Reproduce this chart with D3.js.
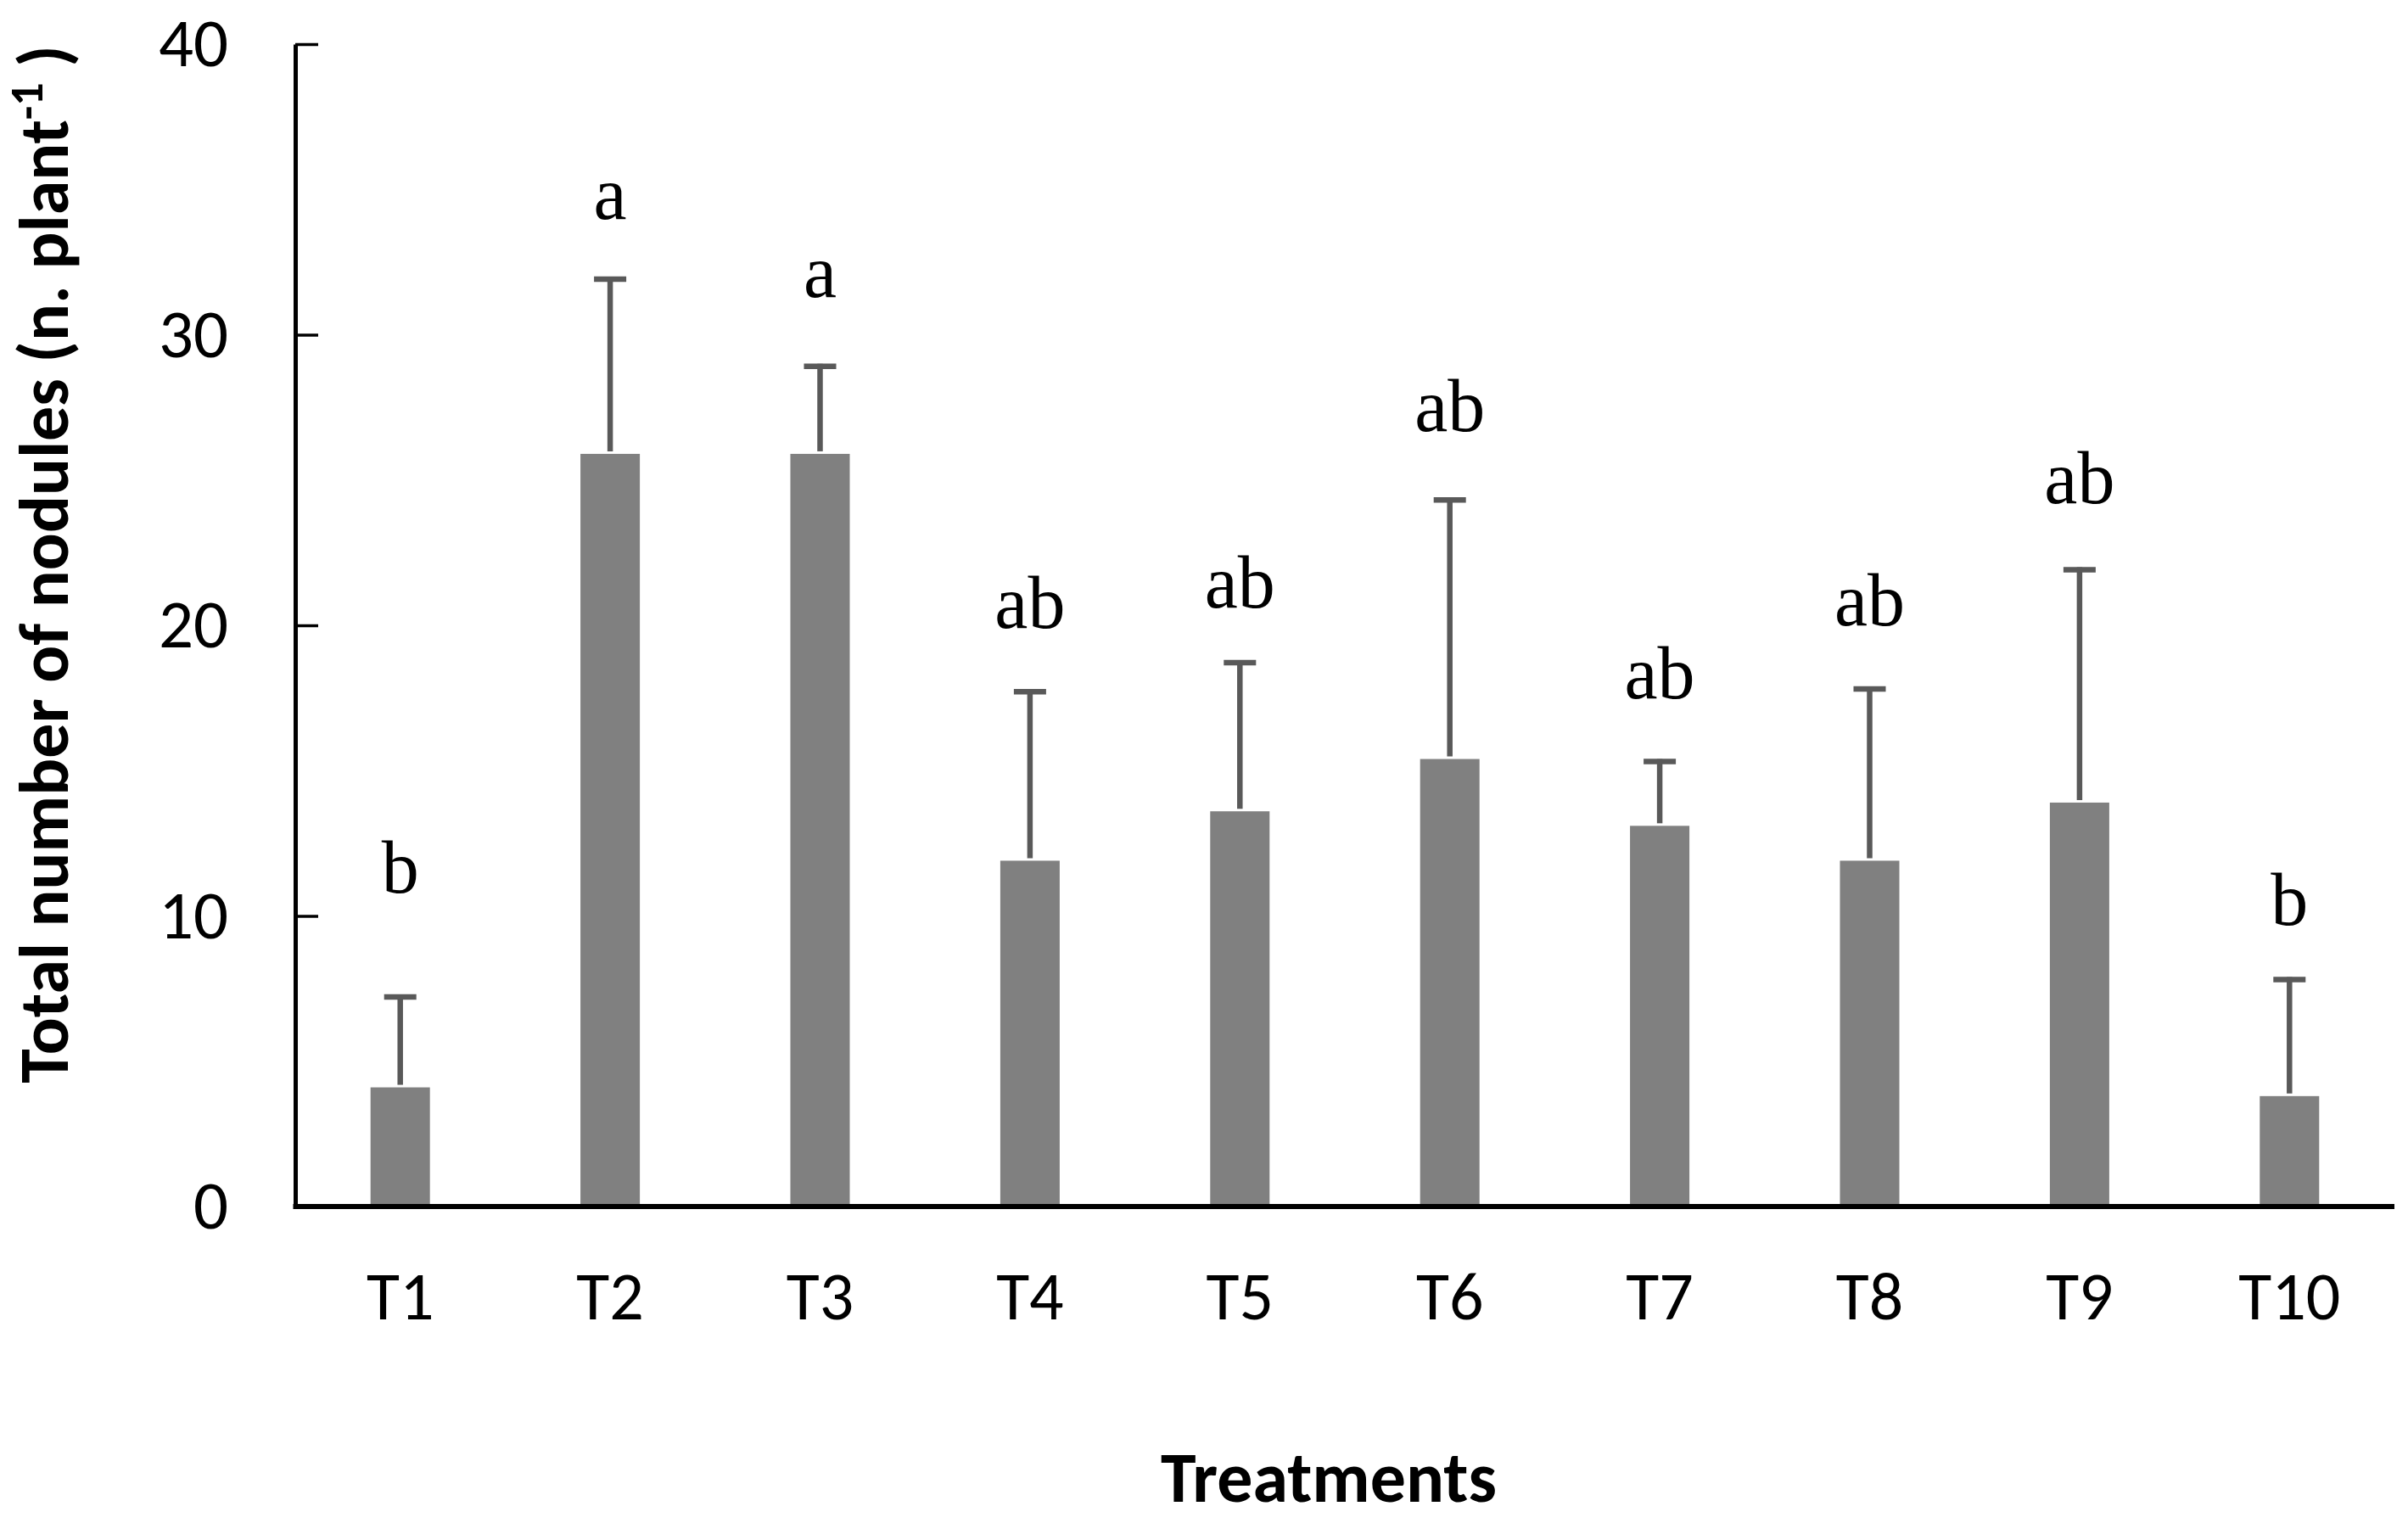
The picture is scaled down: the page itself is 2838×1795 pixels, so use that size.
<!DOCTYPE html>
<html>
<head>
<meta charset="utf-8">
<script src="https://cdn.jsdelivr.net/npm/d3@7"></script>
<style>
  body { margin: 0; background: #fff; }
</style>
</head>
<body>
<script>
// Data
const treatments = ['T1', 'T2', 'T3', 'T4', 'T5', 'T6', 'T7', 'T8', 'T9', 'T10'];
const means = [4.1, 25.9, 25.9, 11.9, 13.6, 15.4, 13.1, 11.9, 13.9, 3.8];
const errors = [3.2, 6.1, 3.1, 5.9, 5.2, 9.0, 2.3, 6.0, 8.1, 4.1];
const letters = ['b', 'a', 'a', 'ab', 'ab', 'ab', 'ab', 'ab', 'ab', 'b'];
const letterLevels = [10.8, 34.0, 31.3, 19.9, 20.6, 26.7, 17.5, 20.0, 24.2, 9.7];
const yTicks = [0, 10, 20, 30, 40];

const W = 2838, H = 1795;
const margin = { left: 348, right: 2822, top: 52, bottom: 1422 };
const sans = 'Carlito, Calibri, Lato, sans-serif';

const svg = d3.select('body').append('svg')
  .attr('width', W)
  .attr('height', H)
  .style('background', '#fff');

const x = d3.scaleBand().domain(treatments).range([margin.left, margin.right]).padding(0);
const y = d3.scaleLinear().domain([0, 40]).range([margin.bottom, margin.top]);
const barW = x.bandwidth() * 0.283;

// bars
svg.selectAll('.bar')
  .data(treatments)
  .enter().append('rect')
  .attr('class', 'bar')
  .attr('x', d => x(d) + x.bandwidth() / 2 - barW / 2)
  .attr('y', (d, i) => y(means[i]))
  .attr('width', barW)
  .attr('height', (d, i) => y(0) - y(means[i]))
  .attr('fill', '#808080');

// error bars (upper only)
const eb = svg.selectAll('.err')
  .data(treatments)
  .enter().append('g')
  .attr('class', 'err')
  .attr('transform', d => `translate(${x(d) + x.bandwidth() / 2},0)`);

eb.append('line')
  .attr('x1', 0).attr('x2', 0)
  .attr('y1', (d, i) => y(means[i]) - 3)
  .attr('y2', (d, i) => y(means[i] + errors[i]))
  .attr('stroke', '#595959')
  .attr('stroke-width', 6.5);

eb.append('line')
  .attr('x1', -19).attr('x2', 19)
  .attr('y1', (d, i) => y(means[i] + errors[i]) + 3)
  .attr('y2', (d, i) => y(means[i] + errors[i]) + 3)
  .attr('stroke', '#595959')
  .attr('stroke-width', 6.5);

// significance letters
svg.selectAll('.letter')
  .data(treatments)
  .enter().append('text')
  .attr('class', 'letter')
  .attr('x', d => x(d) + x.bandwidth() / 2)
  .attr('y', (d, i) => y(letterLevels[i]))
  .attr('text-anchor', 'middle')
  .style('font-family', '"Liberation Serif", "Times New Roman", serif')
  .style('font-size', '88px')
  .attr('fill', '#000')
  .text((d, i) => letters[i]);

// y axis
const yAxis = svg.append('g')
  .attr('transform', `translate(${margin.left},0)`)
  .call(d3.axisLeft(y).tickValues(yTicks).tickSizeInner(-27).tickSizeOuter(0).tickPadding(79));
yAxis.select('.domain').attr('stroke', '#000').attr('stroke-width', 5);
yAxis.selectAll('.tick line').attr('stroke', '#000').attr('stroke-width', 3.5);
yAxis.selectAll('.tick text')
  .style('font-family', sans)
  .style('font-size', '81px')
  .attr('fill', '#000');

// x axis
const xAxis = svg.append('g')
  .attr('transform', `translate(0,${margin.bottom})`)
  .call(d3.axisBottom(x).tickSize(0).tickPadding(76));
xAxis.select('.domain')
  .attr('stroke', '#000').attr('stroke-width', 6)
  .attr('d', `M${margin.left - 2.5},0H${margin.right}`);
xAxis.selectAll('.tick text')
  .style('font-family', sans)
  .style('font-size', '80px')
  .attr('fill', '#000');

// axis titles
svg.append('text')
  .attr('x', 1566)
  .attr('y', 1770)
  .attr('text-anchor', 'middle')
  .style('font-family', sans)
  .style('font-weight', 'bold')
  .style('font-size', '84px')
  .text('Treatments');

const yt = svg.append('text')
  .attr('transform', 'translate(80,665) rotate(-90)')
  .attr('text-anchor', 'middle')
  .style('font-family', sans)
  .style('font-weight', 'bold')
  .style('font-size', '82px');
yt.append('tspan').text('Total number of nodules (n. plant');
yt.append('tspan').attr('dy', -30).style('font-size', '54px').text('-1');
yt.append('tspan').attr('dy', 30).text(' )');
</script>
</body>
</html>
